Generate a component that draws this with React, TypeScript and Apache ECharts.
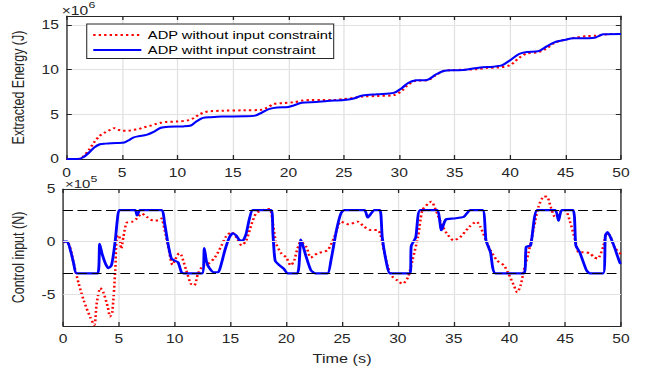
import { useEffect, useRef } from 'react';
import * as echarts from 'echarts';

// The reference figure is stretched horizontally; draw in a narrower box and scale it.
const CW = 496;
const CH = 368;
const SX = 645 / CW;

const FONT = "'Liberation Sans', Arial, Helvetica, sans-serif";
const AX = '#262626';
const GRIDC = '#e2e2e2';

const legendNames = ['ADP without input constraint', 'ADP witht input constraint'];

// Extracted energy (x10^6 J)
const energyTimeRed = [0, 1.0, 1.5, 2.0, 2.5, 3.0, 3.5, 4.0, 4.3, 4.6, 5.0, 5.5, 6.0, 6.5, 7.0, 7.5, 8.0, 8.5, 9.0, 10.0, 11.0, 11.5, 12.0, 12.5, 13.0, 14.0, 16.0, 17.5, 18.0, 18.7, 19.5, 20.5, 21.3, 22, 23, 24, 25, 26, 26.8, 28, 29.5, 30.2, 30.8, 31.5, 32.5, 33.2, 34, 35, 36, 37, 38, 39, 40, 40.8, 41.5, 42.5, 43.2, 44, 45, 46, 47, 47.8, 48.5, 49, 50];
const energyRed = [0, 0, 0.3, 1.0, 1.9, 2.6, 3.0, 3.3, 3.45, 3.3, 3.15, 3.15, 3.25, 3.35, 3.55, 3.7, 3.9, 4.05, 4.15, 4.2, 4.35, 4.6, 5.0, 5.25, 5.35, 5.4, 5.45, 5.5, 5.7, 6.15, 6.25, 6.35, 6.55, 6.6, 6.6, 6.6, 6.7, 6.85, 7.0, 7.05, 7.15, 7.6, 8.3, 8.75, 8.8, 9.3, 9.85, 9.95, 10.0, 10.05, 10.2, 10.25, 10.5, 11.3, 11.8, 11.95, 12.3, 13.0, 13.35, 13.6, 13.75, 13.8, 13.9, 14.0, 14.0];
const energyTimeBlue = [0, 1.0, 1.5, 2.0, 2.5, 3.0, 3.5, 4.5, 5.2, 5.6, 6.0, 6.5, 7.2, 7.8, 8.5, 9.2, 10.5, 11.2, 11.7, 12.3, 13, 14, 16, 17, 17.6, 18.3, 19, 20, 20.5, 21.2, 22.5, 23.5, 25, 25.8, 26.7, 28, 29.5, 30.2, 30.8, 31.5, 32.5, 33.3, 34, 35, 36, 37.3, 38.5, 39.3, 40, 40.8, 41.5, 42.5, 43.3, 44, 45, 45.7, 47, 47.7, 48.4, 50];
const energyBlue = [0, 0, 0.2, 0.7, 1.3, 1.65, 1.72, 1.78, 1.85, 2.1, 2.4, 2.55, 2.7, 3.0, 3.5, 3.62, 3.65, 3.75, 4.2, 4.6, 4.68, 4.75, 4.78, 4.85, 5.2, 5.6, 5.75, 5.82, 6.0, 6.3, 6.38, 6.5, 6.6, 6.75, 7.1, 7.25, 7.4, 7.9, 8.5, 8.8, 8.85, 9.45, 9.85, 9.93, 9.98, 10.25, 10.33, 10.5, 11.05, 11.75, 11.98, 12.05, 12.6, 13.05, 13.35, 13.5, 13.52, 13.6, 13.95, 13.98];

// Control input (x10^5 N)
const controlTimeRed = [0, 0.5, 0.95, 1.4, 1.85, 2.44, 2.8, 3.0, 3.33, 3.6, 4.0, 4.2, 4.4, 4.67, 4.8, 5.0, 5.2, 5.4, 5.7, 6.2, 6.6, 7.05, 7.5, 8.1, 8.5, 8.8, 9.1, 9.4, 9.8, 10.0, 10.4, 10.6, 11.0, 11.45, 11.75, 12.1, 12.55, 13.0, 13.6, 14.2, 14.6, 15.1, 15.5, 16.0, 16.4, 16.9, 17.3, 17.9, 18.5, 18.8, 19.1, 19.55, 20.0, 20.4, 20.7, 21.0, 21.3, 21.8, 22.2, 22.8, 23.7, 24.3, 24.9, 25.6, 26.4, 27.0, 27.6, 28.2, 28.5, 28.8, 29.1, 29.5, 30.0, 30.4, 30.9, 31.3, 31.8, 32.2, 32.7, 33.0, 33.4, 33.9, 34.4, 35.0, 35.6, 36.4, 37.05, 37.4, 37.9, 38.3, 38.9, 39.5, 39.9, 40.4, 40.7, 41.0, 41.3, 41.7, 42.2, 42.6, 43.1, 43.4, 43.7, 44.1, 44.5, 45.0, 45.4, 45.9, 46.2, 46.6, 47.2, 47.6, 47.9, 48.4, 48.7, 49.0, 49.4, 49.9, 50];
const controlRed = [0, -0.2, -2.1, -4, -5.6, -7.2, -7.9, -5.9, -4.4, -4.8, -6.2, -7.1, -6.7, -2.7, 0.44, 0.6, -0.67, 0.44, 1.8, 1.9, 2.2, 2.67, 2.35, 2.0, 2.0, 2.2, 1.1, -0.35, -2.2, -1.8, -1.1, -1.3, -2.6, -4.0, -4.15, -3.0, -2.25, -2.1, -1.5, -0.35, 0.5, 0.9, 0.44, -0.35, 0.1, 1.7, 2.7, 3.0, 3.1, 1.7, -0.2, -1.1, -1.5, -2.25, -1.8, -0.67, 0, -0.5, -1.5, -1.1, -0.8, 0.44, 1.9, 1.65, 1.9, 1.4, 1.1, 1.1, 0.44, -1.1, -2.4, -3.3, -3.7, -4.0, -3.4, -1.8, 0.44, 3.0, 3.6, 3.8, 3.0, 1.7, 0.76, 0.13, 0.44, 1.4, 1.9, 1.4, 0.13, -0.8, -1.8, -2.25, -3.0, -4.15, -4.8, -4.15, -2.7, -1.1, 1.4, 3.3, 4.3, 4.25, 3.3, 2.35, 2.8, 3.0, 2.0, 0.13, -1.0, -1.0, -1.1, -1.5, -1.6, -0.5, 0.76, 0.6, -0.5, -1.1, -1.2];
const controlTimeBlue = [0, 0.36, 0.7, 0.95, 1.2, 3.1, 3.27, 3.5, 3.8, 4.05, 4.3, 4.45, 4.7, 4.85, 5.05, 6.45, 6.62, 6.9, 8.8, 9.1, 9.4, 9.7, 10.0, 10.3, 10.6, 10.8, 12.45, 12.65, 12.85, 13.1, 13.5, 13.9, 14.2, 14.5, 14.9, 15.2, 15.5, 15.8, 16.1, 16.4, 16.7, 17.0, 18.65, 18.8, 19.0, 19.4, 19.8, 20.1, 21.0, 21.3, 21.5, 21.8, 22.2, 22.6, 23.7, 24.0, 24.5, 24.9, 25.2, 27.0, 27.3, 27.9, 28.4, 28.6, 29.0, 29.3, 31.1, 31.2, 31.6, 32.0, 33.5, 33.9, 34.3, 35.0, 35.9, 36.5, 37.6, 37.9, 38.3, 38.75, 41.3, 41.5, 41.9, 42.5, 44.1, 44.4, 44.7, 45.7, 45.95, 46.3, 46.9, 47.2, 48.4, 48.6, 48.8, 49.3, 49.9, 50];
const controlBlue = [0, 0, -1.0, -2.1, -3, -3, -0.2, -1.2, -2.1, -2.5, -2.3, -1.6, 0.4, 2.0, 3, 3, 2.5, 3, 3, 1.7, -0.2, -1.6, -1.8, -1.95, -2.9, -3, -3, -0.6, -1.9, -2.5, -2.9, -2.9, -2.0, -0.8, 0.4, 0.8, 0.6, 0.15, 0.1, 0.76, 2.2, 3, 3, 0.8, -1.8, -2.25, -2.6, -3, -3, 0.2, -0.4, -1.5, -2.7, -3, -3, -1.8, 1.1, 2.7, 3, 3, 2.3, 3, 3, 0.4, -2.1, -3, -3, -0.4, 0.4, 3, 3, 1.1, 2.1, 2.2, 2.35, 3, 3, 0.13, -1.0, -3, -3, -0.5, -0.35, 3, 3, 2.0, 3, 3, -0.35, -1.0, -2.7, -3, -3, 0.6, 0.9, -0.2, -2.0, -2.1];

const saturationLimits = [3, -3];
const controlGridValues = [-5, 0];
const controlTickValues = [-5, 0, 5];

const zip = (t: number[], v: number[]) => t.map((x, i) => [x, v[i]]);

const GL = 61 / SX;
const GW = 560 / SX;

function xAxes(gridIndex: number, margin: number, name?: string) {
  const base = {
    type: 'value' as const,
    gridIndex,
    min: 0,
    max: 50,
    interval: 5,
    axisLine: { show: true, onZero: false, lineStyle: { color: AX, width: 1 } },
    axisTick: { show: true, inside: true, length: 4, lineStyle: { color: AX } },
  };
  return [
    {
      ...base,
      position: 'bottom',
      axisLabel: { show: true, fontSize: 12, color: AX, margin, fontFamily: FONT },
      splitLine: { show: true, lineStyle: { color: GRIDC, width: 1 } },
      name,
      nameLocation: 'middle',
      nameGap: 26,
      nameTextStyle: { fontSize: 12.5, color: AX, fontFamily: FONT },
    },
    {
      ...base,
      position: 'top',
      axisLabel: { show: false },
      splitLine: { show: false },
    },
  ];
}

export default function App() {
  const ref = useRef<HTMLDivElement>(null);

  useEffect(() => {
    if (!ref.current) return;
    const chart = echarts.init(ref.current, null, { renderer: 'svg', width: CW, height: CH });

    const yTick = { show: true, inside: true, length: 4, lineStyle: { color: AX } };
    const yLine = { show: true, onZero: false, lineStyle: { color: AX, width: 1 } };

    const option: any = {
      animation: false,
      backgroundColor: '#fff',
      textStyle: { fontFamily: FONT },
      grid: [
        { left: GL, top: 16, width: GW, height: 143 },
        { left: GL, top: 189, width: GW, height: 137 },
      ],
      xAxis: [...xAxes(0, 8), ...xAxes(1, 7, 'Time (s)')],
      yAxis: [
        {
          type: 'value', gridIndex: 0, position: 'left', min: 0, max: 16, interval: 5,
          axisLine: yLine, axisTick: yTick,
          axisLabel: { fontSize: 12, color: AX, margin: 6, fontFamily: FONT, formatter: (v: number) => (v % 5 === 0 ? String(v) : '') },
          splitLine: { show: true, lineStyle: { color: GRIDC, width: 1 } },
          name: 'Extracted Energy (J)', nameLocation: 'middle', nameGap: 24.5,
          nameTextStyle: { fontSize: 12.5, color: AX, fontFamily: FONT },
        },
        {
          type: 'value', gridIndex: 0, position: 'right', min: 0, max: 16, interval: 5,
          axisLine: yLine, axisTick: yTick, axisLabel: { show: false }, splitLine: { show: false },
        },
        {
          type: 'value', gridIndex: 1, position: 'left', min: -8, max: 5,
          axisLine: yLine,
          axisTick: { ...yTick, customValues: controlTickValues },
          axisLabel: { fontSize: 12, color: AX, margin: 6, fontFamily: FONT, customValues: controlTickValues },
          splitLine: { show: false },
          name: 'Control input (N)', nameLocation: 'middle', nameGap: 17.7,
          nameTextStyle: { fontSize: 12.5, color: AX, fontFamily: FONT },
        },
        {
          type: 'value', gridIndex: 1, position: 'right', min: -8, max: 5,
          axisLine: yLine,
          axisTick: { ...yTick, customValues: controlTickValues },
          axisLabel: { show: false }, splitLine: { show: false },
        },
      ],
      legend: {
        orient: 'vertical',
        left: 66.7,
        top: 24,
        padding: [4.5, 1, 2, 4],
        itemWidth: 37,
        itemHeight: 10,
        itemGap: 2,
        backgroundColor: '#fff',
        borderColor: AX,
        borderWidth: 0.8,
        borderRadius: 0,
        itemStyle: { opacity: 0 },
        textStyle: { fontSize: 11.3, lineHeight: 13, color: '#000', fontFamily: FONT },
        data: legendNames,
      },
      graphic: [
        { type: 'text', x: 47.5, y: 10.5, style: { text: '×10', fontSize: 12, fill: AX, fontFamily: FONT, verticalAlign: 'middle' } },
        { type: 'text', x: 68, y: 5, style: { text: '6', fontSize: 9.5, fill: AX, fontFamily: FONT, verticalAlign: 'middle' } },
        { type: 'text', x: 50, y: 184.5, style: { text: '×10', fontSize: 11.5, fill: AX, fontFamily: FONT, verticalAlign: 'middle' } },
        { type: 'text', x: 69.5, y: 179, style: { text: '5', fontSize: 9.5, fill: AX, fontFamily: FONT, verticalAlign: 'middle' } },
      ],
      series: [
        {
          name: legendNames[0], type: 'line', xAxisIndex: 0, yAxisIndex: 0, z: 3,
          data: zip(energyTimeRed, energyRed), showSymbol: false, symbol: 'none', smooth: 0.3,
          lineStyle: { color: '#ff0000', width: 2, type: [1.8, 2.4] }, itemStyle: { color: '#ff0000' },
        },
        {
          name: legendNames[1], type: 'line', xAxisIndex: 0, yAxisIndex: 0, z: 4,
          data: zip(energyTimeBlue, energyBlue), showSymbol: false, symbol: 'none', smooth: 0.3,
          lineStyle: { color: '#0000ff', width: 2 }, itemStyle: { color: '#0000ff' },
        },
        {
          name: 'guides', type: 'line', xAxisIndex: 2, yAxisIndex: 2, z: 1, data: [],
          markLine: {
            silent: true, symbol: ['none', 'none'], label: { show: false },
            data: [
              ...controlGridValues.map((v) => ({ yAxis: v, lineStyle: { color: GRIDC, width: 1, type: 'solid' } })),
              ...saturationLimits.map((v) => ({ yAxis: v, lineStyle: { color: '#000', width: 1.2, type: [7.5, 3.5] } })),
            ],
          },
        },
        {
          name: legendNames[0], type: 'line', xAxisIndex: 2, yAxisIndex: 2, z: 3,
          data: zip(controlTimeRed, controlRed), showSymbol: false, symbol: 'none', smooth: 0.25,
          lineStyle: { color: '#ff0000', width: 2, type: [1.8, 2.4] }, itemStyle: { color: '#ff0000' },
        },
        {
          name: legendNames[1], type: 'line', xAxisIndex: 2, yAxisIndex: 2, z: 4,
          data: zip(controlTimeBlue, controlBlue), showSymbol: false, symbol: 'none', smooth: 0.2,
          lineStyle: { color: '#0000ff', width: 2.2 }, itemStyle: { color: '#0000ff' },
        },
      ],
    };

    chart.setOption(option);
    return () => chart.dispose();
  }, []);

  return (
    <div style={{ position: 'fixed', left: 0, top: 0, width: 645, height: CH, overflow: 'hidden', background: '#fff' }}>
      <div
        ref={ref}
        style={{ width: CW, height: CH, transform: `scaleX(${SX})`, transformOrigin: '0 0' }}
      />
    </div>
  );
}
